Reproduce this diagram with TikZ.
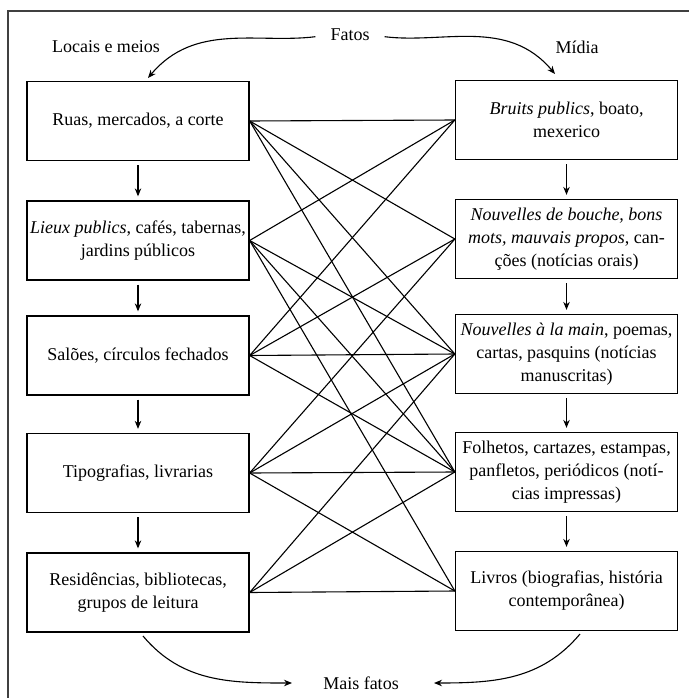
\documentclass[tikz,border=0pt]{standalone}
\usepackage{fontspec}
\setmainfont{Liberation Serif}
\usetikzlibrary{arrows.meta}
\begin{document}
\begin{tikzpicture}[x=1pt,y=1pt,
  box/.style={draw, line width=1.3pt, minimum width=222pt, minimum height=79pt,
    align=center, inner sep=2pt, font=\fontsize{18}{23}\selectfont},
  lbl/.style={inner sep=1pt, font=\fontsize{18}{23}\selectfont},
  link/.style={line width=1.1pt},
  flow/.style={line width=1.1pt, -{Stealth[length=8pt,width=6.5pt]}},
  frame/.style={line width=1.5pt, draw=black!75}]
\useasboundingbox (0,0) rectangle (689,-698);
\draw[frame] (8,-698) -- (8,-11) -- (689,-11);
% left column
\node[box] (L1) at (138,-121) {Ruas, mercados, a corte};
\node[box] (L2) at (138,-240.5) {\textit{Lieux publics}, cafés, tabernas,\\ jardins públicos};
\node[box] (L3) at (138,-355.5) {Salões, círculos fechados};
\node[box] (L4) at (138,-473) {Tipografias, livrarias};
\node[box] (L5) at (138,-592.5) {Residências, bibliotecas,\\ grupos de leitura};
% right column
\node[box] (R1) at (566.5,-120) {\textit{Bruits publics}, boato,\\ mexerico};
\node[box] (R2) at (566.5,-239) {\textit{Nouvelles de bouche, bons}\\ \textit{mots, mauvais propos}, can-\\ ções (notícias orais)};
\node[box] (R3) at (566.5,-354) {\textit{Nouvelles à la main}, poemas,\\ cartas, pasquins (notícias\\ manuscritas)};
\node[box] (R4) at (566.5,-472) {Folhetos, cartazes, estampas,\\ panfletos, periódicos (notí-\\ cias impressas)};
\node[box] (R5) at (566.5,-591) {Livros (biografias, história\\ contemporânea)};
% labels
\node[lbl] (fatos) at (350,-35) {Fatos};
\node[lbl] (locais) at (106,-47) {Locais e meios};
\node[lbl] (midia) at (577,-47) {Mídia};
\node[lbl] (mais) at (361,-683) {Mais fatos};
% vertical flows
\foreach \a/\b in {L1/L2,L2/L3,L3/L4,L4/L5,R1/R2,R2/R3,R3/R4,R4/R5}
  \draw[flow, shorten <=4pt, shorten >=4pt] (\a) -- (\b);
% network links
\foreach \a/\b in {L1/R1,L1/R2,L1/R3,L1/R4,
                   L2/R1,L2/R3,L2/R4,L2/R5,
                   L3/R1,L3/R2,L3/R3,L3/R4,
                   L4/R2,L4/R3,L4/R4,L4/R5,
                   L5/R3,L5/R4,L5/R5}
  \draw[link] (\a.east) -- (\b.west);
% curved arrows
\coordinate (tl) at (148,-78);
\coordinate (tr) at (555,-74);
\coordinate (bl) at (143,-636);
\coordinate (br) at (580,-634);
\coordinate (ml) at (292,-683);
\coordinate (mr) at (434,-683);
\draw[flow, shorten <=14pt] (fatos.west) to[out=187,in=50] (tl);
\draw[flow, shorten <=14pt] (fatos.east) to[out=-7,in=130] (tr);
\draw[flow] (bl) to[out=-50,in=180] (ml);
\draw[flow] (br) to[out=-130,in=0] (mr);
\end{tikzpicture}
\end{document}
